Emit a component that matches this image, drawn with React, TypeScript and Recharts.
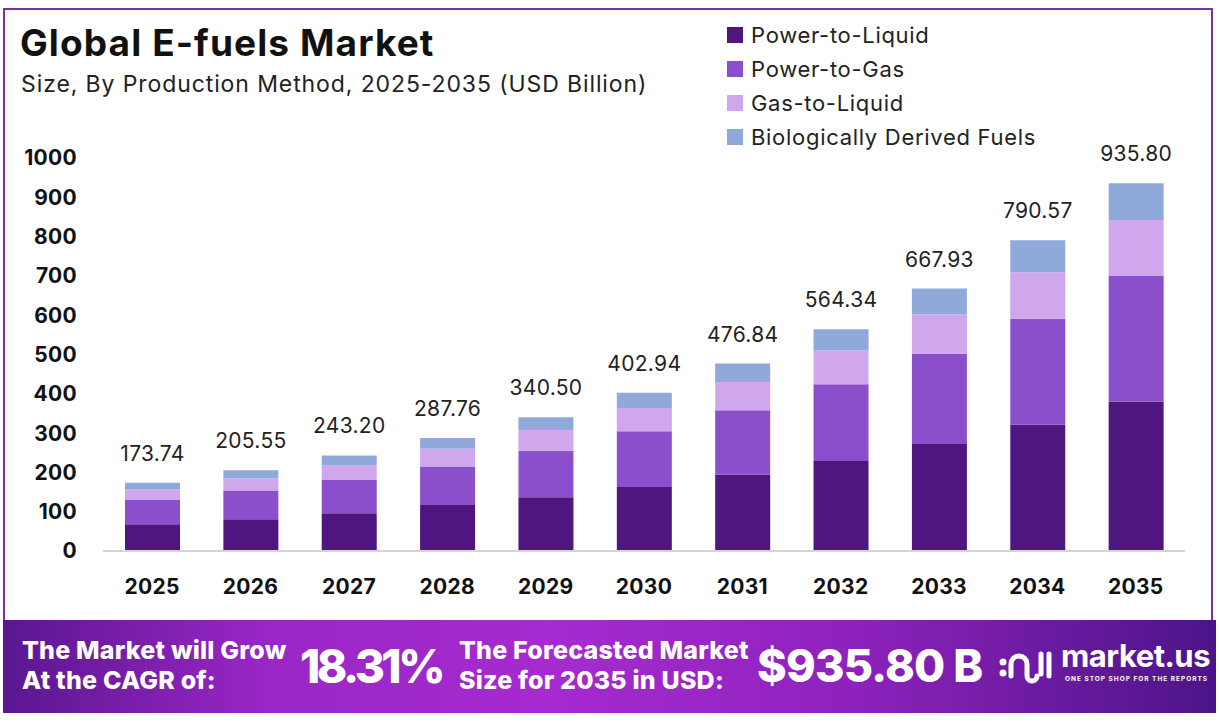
import { BarChart, Bar, XAxis, YAxis, LabelList } from "recharts";

const years = ["2025", "2026", "2027", "2028", "2029", "2030", "2031", "2032", "2033", "2034", "2035"];
const powerToLiquid = [68, 81, 96, 117, 137, 163, 194, 229, 272, 321, 380];
const powerToGas = [63, 73, 86, 98, 118, 142, 164, 195, 230, 270, 321];
const gasToLiquid = [26, 31, 37, 45, 53, 59, 72, 86, 100, 118, 141];
const bioFuels = [16.74, 20.55, 24.2, 27.76, 32.5, 38.94, 46.84, 54.34, 65.93, 81.57, 93.8];
const totals = ["173.74", "205.55", "243.20", "287.76", "340.50", "402.94", "476.84", "564.34", "667.93", "790.57", "935.80"];
const yTicks = [0, 100, 200, 300, 400, 500, 600, 700, 800, 900, 1000];

const series = [
  { key: "ptl", name: "Power-to-Liquid", color: "#4f1680" },
  { key: "ptg", name: "Power-to-Gas", color: "#8b4fcb" },
  { key: "gtl", name: "Gas-to-Liquid", color: "#d0a7ec" },
  { key: "bdf", name: "Biologically Derived Fuels", color: "#8fa9db" },
];

const data = years.map((year, i) => ({
  year,
  ptl: powerToLiquid[i],
  ptg: powerToGas[i],
  gtl: gasToLiquid[i],
  bdf: bioFuels[i],
  total: totals[i],
}));

const FONT = "Inter, 'Noto Sans', sans-serif";

export default function App() {
  return (
    <div style={{ position: "relative", width: 1219, height: 727, background: "#fff", fontFamily: FONT, overflow: "hidden" }}>
      <style>{"body{margin:0}"}</style>
      {/* frame */}
      <div style={{ position: "absolute", left: 3, top: 8, width: 1210, height: 620, border: "2px solid #7d2fa6", boxSizing: "border-box" }} />

      <div style={{ position: "absolute", left: 20, top: 20, fontSize: 37, fontWeight: 700, color: "#111", letterSpacing: 1.1 }}>
        Global E-fuels Market
      </div>
      <div style={{ position: "absolute", left: 21, top: 70, fontSize: 23, color: "#222", letterSpacing: 0.9 }}>
        Size, By Production Method, 2025-2035 (USD Billion)
      </div>

      <div style={{ position: "absolute", left: 727, top: 18 }}>
        {series.map((s) => (
          <div key={s.key} style={{ display: "flex", alignItems: "center", height: 34 }}>
            <span style={{ width: 16, height: 16, background: s.color, marginRight: 8 }} />
            <span style={{ fontSize: 22, color: "#222", letterSpacing: 0.7 }}>{s.name}</span>
          </div>
        ))}
      </div>

      <div style={{ position: "absolute", left: 0, top: 0 }}>
        <BarChart width={1219} height={620} data={data} margin={{ top: 158, right: 34, bottom: 19, left: 10 }} barSize={55}>
          <XAxis dataKey="year" height={50} axisLine={{ stroke: "#d4d4d4", strokeWidth: 2 }} tickLine={false} tickMargin={22}
            tick={{ fill: "#111", fontSize: 21, fontWeight: 700, fontFamily: FONT, letterSpacing: 0.3 }} interval={0} />
          <YAxis width={93} domain={[0, 1000]} ticks={yTicks} axisLine={false} tickLine={false} tickMargin={20}
            tick={{ fill: "#111", fontSize: 21, fontWeight: 700, fontFamily: FONT, letterSpacing: 0.3 }} />
          {series.map((s, idx) => (
            <Bar key={s.key} dataKey={s.key} name={s.name} stackId="a" fill={s.color} isAnimationActive={false}>
              {idx === series.length - 1 && (
                <LabelList dataKey="total" position="top" offset={22} fill="#222" fontSize={21} fontFamily={FONT} letterSpacing={0.3} />
              )}
            </Bar>
          ))}
        </BarChart>
      </div>

      {/* bottom banner */}
      <div style={{
        position: "absolute", left: 3, top: 620, width: 1213, height: 93,
        background: "linear-gradient(90deg, #5a1790 0%, #9a26c6 22%, #a62bd0 45%, #8e22bd 70%, #4c1488 100%)",
        color: "#fff", fontWeight: 800,
      }}>
        <div style={{ position: "absolute", left: 19, top: 15, fontSize: 25, lineHeight: "30px", letterSpacing: 0.2, whiteSpace: "nowrap" }}>
          The Market will Grow<br />At the CAGR of:
        </div>
        <div style={{ position: "absolute", left: 297, top: 17, fontSize: 46, lineHeight: "58px", letterSpacing: -3.5 }}>18.31%</div>
        <div style={{ position: "absolute", left: 456, top: 15, fontSize: 25, lineHeight: "30px", letterSpacing: 0.2, whiteSpace: "nowrap" }}>
          The Forecasted Market<br />Size for 2035 in USD:
        </div>
        <div style={{ position: "absolute", left: 754, top: 17, fontSize: 45, lineHeight: "58px", letterSpacing: -0.8 }}>$935.80 B</div>
        <svg style={{ position: "absolute", left: 996, top: 26 }} width={54} height={40} viewBox="0 0 54 40">
          <circle cx={4} cy={16} r={3.5} fill="#fff" />
          <circle cx={4} cy={27} r={3.5} fill="#fff" />
          <path d="M12 30 V18 a8 8 0 0 1 16 0 V30 a5 5 0 0 0 10 0" stroke="#fff" strokeWidth={5} fill="none" strokeLinecap="round" />
          <path d="M42 8 V28 M50 8 V30" stroke="#fff" strokeWidth={5} strokeLinecap="round" />
        </svg>
        <div style={{ position: "absolute", left: 1058, top: 18, fontSize: 31, lineHeight: "36px", letterSpacing: -0.5, fontWeight: 700 }}>market.us</div>
        <div style={{ position: "absolute", left: 1062, top: 55, fontSize: 6.5, letterSpacing: 1, whiteSpace: "nowrap", fontWeight: 700 }}>ONE STOP SHOP FOR THE REPORTS</div>
      </div>
    </div>
  );
}
